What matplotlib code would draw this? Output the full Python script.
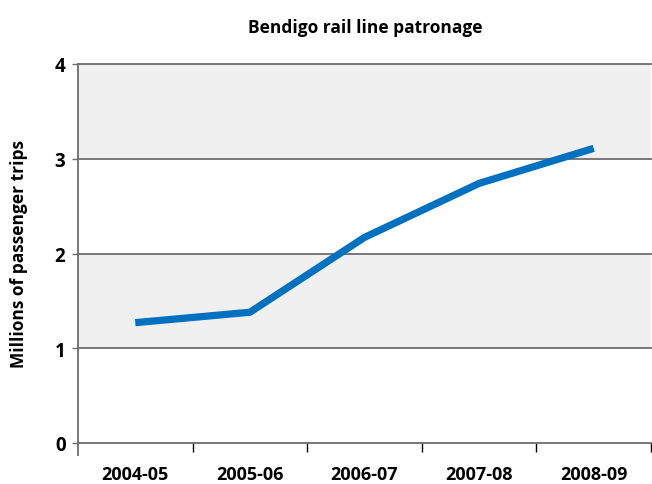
import matplotlib
matplotlib.use("Agg")
import matplotlib.pyplot as plt
from matplotlib.ticker import FixedLocator, NullFormatter

categories = ["2004-05", "2005-06", "2006-07", "2007-08", "2008-09"]
values = [1.27, 1.38, 2.17, 2.74, 3.11]
yticks = [0, 1, 2, 3, 4]

plt.rcParams['font.family'] = ['Open Sans', 'DejaVu Sans']

W, H = 652, 485
fig = plt.figure(figsize=(W/100, H/100), dpi=100)
ax = fig.add_axes([78/W, (H-444)/H, (651-78)/W, (444-65)/H])

ax.set_xlim(0, len(categories))
ax.set_ylim(0, 4)

for lo in (1, 3):
    ax.axhspan(lo, lo+1, color='#f0f0f0', zorder=0, lw=0)
for y in yticks[1:]:
    ax.axhline(y, color='#6d6d6d', lw=1.3, zorder=1, clip_on=False)

xs = [i + 0.5 for i in range(len(categories))]
ax.plot(xs, values, color='#0070c0', lw=5.2, solid_capstyle='butt', zorder=3)

for s in ('top', 'right'):
    ax.spines[s].set_visible(False)
ax.spines['left'].set_color('#6d6d6d')
ax.spines['bottom'].set_color('#6d6d6d')
ax.spines['left'].set_linewidth(1.3)
ax.spines['bottom'].set_linewidth(1.3)
ax.spines['left'].set_bounds(-0.13, 4)

ax.set_yticks(yticks)
ax.set_yticklabels([str(t) for t in yticks], fontsize=13.5, fontweight='bold')
ax.tick_params(axis='y', length=4, width=1, color='#6d6d6d', pad=5)

ax.xaxis.set_major_locator(FixedLocator(list(range(1, len(categories)+1))))
ax.xaxis.set_major_formatter(NullFormatter())
ax.xaxis.set_minor_locator(FixedLocator(xs))
ax.set_xticklabels(categories, minor=True, fontsize=13, fontweight='bold')
ax.tick_params(axis='x', which='major', length=6.5, width=1, color='#000000')
ax.tick_params(axis='x', which='minor', length=0, pad=16)

ax.set_ylabel("Millions of passenger trips", fontsize=12.5, fontweight='bold', labelpad=19)
fig.text(365/W, 1-28/H, "Bendigo rail line patronage", ha='center', va='center',
         fontsize=12.5, fontweight='bold')

fig.savefig("out.png", dpi=100)
